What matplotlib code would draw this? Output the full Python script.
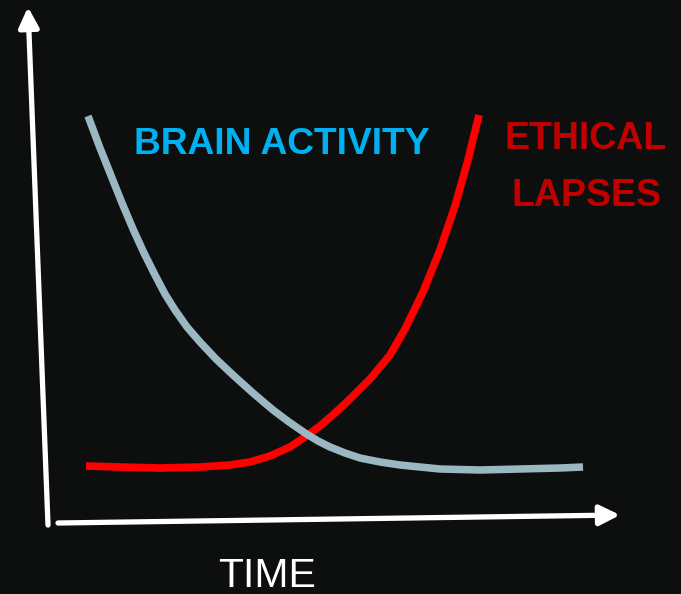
import matplotlib
matplotlib.use("Agg")
import matplotlib.pyplot as plt

# Curve points (pixel space, y downwards)
brain_x = [88, 100, 112, 122, 133, 144, 155, 165, 175, 187, 200, 216, 233, 253, 273,
           289, 305, 318, 330, 345, 360, 380, 400, 420, 440, 480, 520, 560, 583]
brain_y = [116, 148, 178, 203, 229, 253, 275, 294, 310, 327, 342, 359, 375, 393, 410,
           422, 433, 441, 447, 453, 458, 462, 465, 467, 469, 470, 469, 468, 467]

ethics_x = [86, 120, 160, 200, 230, 250, 270, 290, 305, 320, 335, 350, 370, 390,
            405, 423, 440, 455, 468, 479]
ethics_y = [466, 467, 468, 467, 465, 462, 456, 447, 437, 426, 413, 399, 379, 355,
            329, 292, 250, 206, 160, 115]

bg = "#0d0f0f"

fig = plt.figure(figsize=(6.81, 5.94), dpi=100, facecolor=bg)
ax = fig.add_axes([0, 0, 1, 1])
ax.set_facecolor(bg)
ax.set_xlim(0, 681)
ax.set_ylim(594, 0)
ax.axis("off")

# Axes drawn as arrows
arrow = dict(arrowstyle="-|>", color="white", lw=3.8, mutation_scale=30,
             shrinkA=0, shrinkB=0)
ax.annotate("", xy=(28, 7), xytext=(48, 525), arrowprops=arrow)
ax.annotate("", xy=(620, 515), xytext=(58, 523), arrowprops=arrow)

# Curves
ax.plot(ethics_x, ethics_y, color="#ff0000", lw=5.5, solid_capstyle="butt",
        solid_joinstyle="round", zorder=2)
ax.plot(brain_x, brain_y, color="#9bb8c2", lw=5.4, solid_capstyle="butt",
        solid_joinstyle="round", zorder=3)

# Labels
ax.text(282, 145, "BRAIN ACTIVITY", color="#00b0f0", fontsize=26.7, fontweight="bold",
        family="Liberation Sans", ha="center", va="center")
ax.text(586, 139, "ETHICAL", color="#c00000", fontsize=27, fontweight="bold",
        family="Liberation Sans", ha="center", va="center")
ax.text(586, 196, "LAPSES", color="#c00000", fontsize=27, fontweight="bold",
        family="Liberation Sans", ha="center", va="center")
ax.text(267, 576, "TIME", color="white", fontsize=29.5,
        family="Liberation Sans", ha="center", va="center")

fig.savefig("out.png", dpi=100, facecolor=bg)
